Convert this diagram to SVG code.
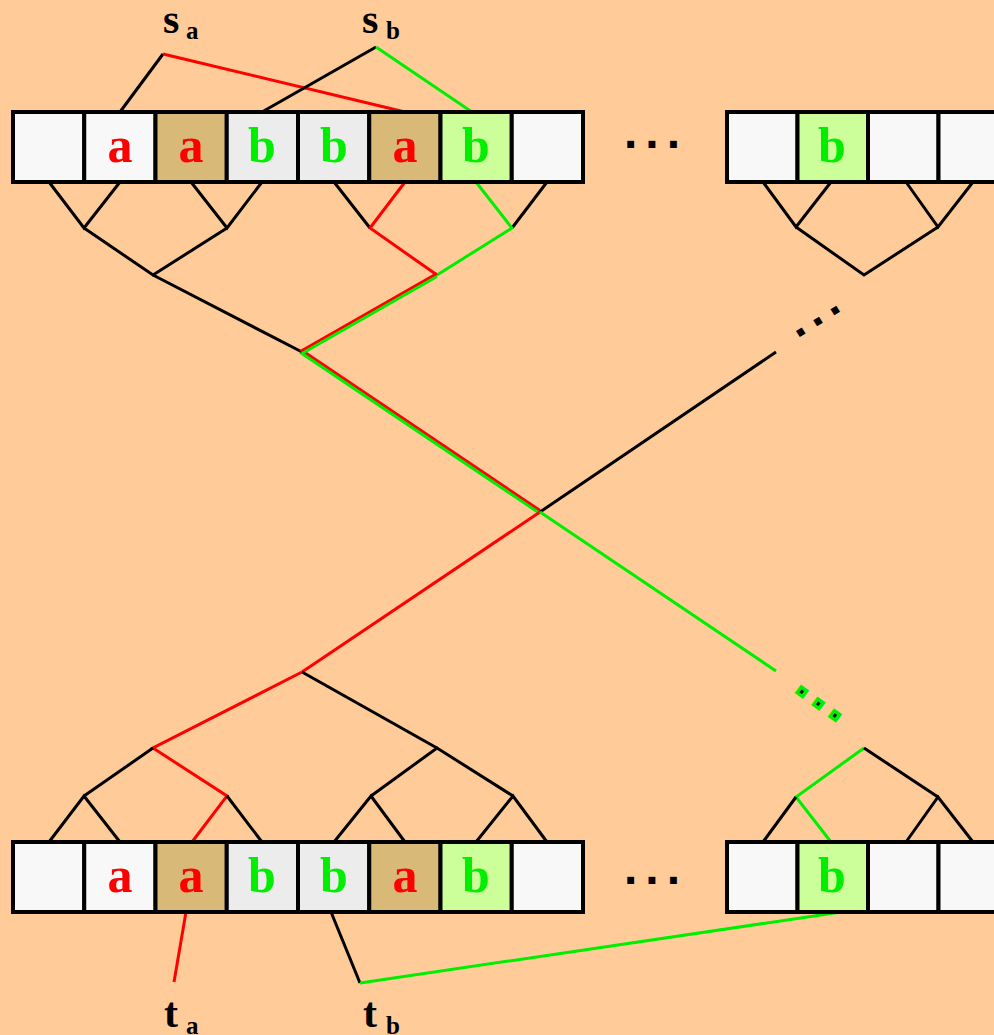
<svg xmlns="http://www.w3.org/2000/svg" width="994" height="1035" viewBox="0 0 994 1035">
  <style>
    .cell { stroke: #000; stroke-width: 4; }
    .w { fill: #f8f8f8; }
    .t { fill: #d9b978; }
    .g { fill: #ececec; }
    .lg { fill: #ccff99; }
    .ch { font-family: "Liberation Serif", serif; font-weight: bold; font-size: 50px; text-anchor: middle; }
    .ra { fill: #ff0000; }
    .gb { fill: #00ee00; }
    .lab { font-family: "Liberation Serif", serif; font-weight: bold; font-size: 42px; fill: #000; }
    .sub { font-family: "Liberation Serif", serif; font-weight: bold; font-size: 25px; fill: #000; }
    .dots { font-family: "Liberation Sans", sans-serif; font-weight: bold; font-size: 48px; letter-spacing: 8px; fill: #000; }
    .k { stroke: #000; stroke-width: 3; fill: none; stroke-linejoin: miter; }
    .r { stroke: #ff0000; stroke-width: 3; fill: none; }
    .e { stroke: #00ee00; stroke-width: 3; fill: none; }
  </style>
  <rect width="994" height="1035" fill="#ffcc99"/>

  <!-- connectors -->
  <g id="connectors">
    <!-- source pointers -->
    <polyline class="k" points="120,112 163,54"/>
    <polyline class="r" points="163,54 405,112"/>
    <polyline class="k" points="262,112 376,47"/>
    <polyline class="e" points="376,47 472,112"/>

    <!-- upper tree, left block -->
    <polyline class="k" points="49,182 84,228 120,182"/>
    <polyline class="k" points="191,182 227,228 262,182"/>
    <polyline class="k" points="334,182 370,228"/>
    <polyline class="r" points="405,182 370,228 437,275"/>
    <polyline class="k" points="547,182 512,228"/>
    <polyline class="e" points="476,182 512,228 437,275"/>
    <polyline class="k" points="84,228 153,275 227,228"/>
    <polyline class="k" points="153,275 302,352 540,512 776,352"/>
    <polyline class="r" points="437,273.5 302,350.5 540,510.5"/>
    <polyline class="e" points="437,276.5 302,353.5 540,513.5"/>

    <!-- upper tree, right block -->
    <polyline class="k" points="763,182 796,227 831,182"/>
    <polyline class="k" points="906,182 938,227 973,182"/>
    <polyline class="k" points="796,227 864,275 938,227"/>

    <!-- lower half of the crossing -->
    <polyline class="r" points="540,512 302,672"/>
    <polyline class="e" points="540,512 776,671"/>

    <!-- lower tree, left block -->
    <polyline class="k" points="302,672 437,748"/>
    <polyline class="r" points="302,672 153,748 227,796 192,842"/>
    <polyline class="k" points="153,748 84,796"/>
    <polyline class="k" points="49,842 84,796 120,842"/>
    <polyline class="k" points="227,796 262,842"/>
    <polyline class="k" points="371,796 437,748 513,796"/>
    <polyline class="k" points="334,842 371,796 405,842"/>
    <polyline class="k" points="476,842 513,796 547,842"/>

    <!-- lower tree, right block -->
    <polyline class="e" points="864,748 796,797 831,842"/>
    <polyline class="k" points="796,797 763,842"/>
    <polyline class="k" points="864,748 938,797"/>
    <polyline class="k" points="906,842 938,797 973,842"/>

    <!-- target pointers -->
    <polyline class="r" points="186,912 174,982"/>
    <polyline class="k" points="331,912 360,983"/>
    <polyline class="e" points="360,983 841,912"/>

    <!-- continuation marks on the diagonals -->
    <text class="dots" transform="translate(801,332) rotate(-32)" x="-7" y="3.5" style="letter-spacing:7px">...</text>
    <text class="dots" transform="translate(802,692) rotate(36)" x="-7" y="3.5" style="letter-spacing:7px;stroke:#00ee00;stroke-width:3.5px">...</text>
  </g>

  <!-- upper array -->
  <g id="top-array">
    <rect class="cell w" x="13" y="112" width="71.25" height="70"/>
    <rect class="cell w" x="84.25" y="112" width="71.25" height="70"/>
    <rect class="cell t" x="155.5" y="112" width="71.25" height="70"/>
    <rect class="cell g" x="226.75" y="112" width="71.25" height="70"/>
    <rect class="cell g" x="298" y="112" width="71.25" height="70"/>
    <rect class="cell t" x="369.25" y="112" width="71.25" height="70"/>
    <rect class="cell lg" x="440.5" y="112" width="71.25" height="70"/>
    <rect class="cell w" x="511.75" y="112" width="71.25" height="70"/>
    <text class="ch ra" x="120" y="162">a</text>
    <text class="ch ra" x="191" y="162">a</text>
    <text class="ch gb" x="262" y="162">b</text>
    <text class="ch gb" x="334" y="162">b</text>
    <text class="ch ra" x="405" y="162">a</text>
    <text class="ch gb" x="476" y="162">b</text>
  </g>
  <g id="top-gap">
    <text class="dots" x="624" y="148">...</text>
  </g>
  <g id="top-array-right">
    <rect class="cell w" x="727" y="112" width="70.5" height="70"/>
    <rect class="cell lg" x="797.5" y="112" width="70.5" height="70"/>
    <rect class="cell w" x="868" y="112" width="70.5" height="70"/>
    <rect class="cell w" x="938.5" y="112" width="70.5" height="70"/>
    <text class="ch gb" x="832" y="162">b</text>
  </g>

  <!-- lower array -->
  <g id="bottom-array">
    <rect class="cell w" x="13" y="842" width="71.25" height="70"/>
    <rect class="cell w" x="84.25" y="842" width="71.25" height="70"/>
    <rect class="cell t" x="155.5" y="842" width="71.25" height="70"/>
    <rect class="cell g" x="226.75" y="842" width="71.25" height="70"/>
    <rect class="cell g" x="298" y="842" width="71.25" height="70"/>
    <rect class="cell t" x="369.25" y="842" width="71.25" height="70"/>
    <rect class="cell lg" x="440.5" y="842" width="71.25" height="70"/>
    <rect class="cell w" x="511.75" y="842" width="71.25" height="70"/>
    <text class="ch ra" x="120" y="892">a</text>
    <text class="ch ra" x="191" y="892">a</text>
    <text class="ch gb" x="262" y="892">b</text>
    <text class="ch gb" x="334" y="892">b</text>
    <text class="ch ra" x="405" y="892">a</text>
    <text class="ch gb" x="476" y="892">b</text>
  </g>
  <g id="bottom-gap">
    <text class="dots" x="624" y="884">...</text>
  </g>
  <g id="bottom-array-right">
    <rect class="cell w" x="727" y="842" width="70.5" height="70"/>
    <rect class="cell lg" x="797.5" y="842" width="70.5" height="70"/>
    <rect class="cell w" x="868" y="842" width="70.5" height="70"/>
    <rect class="cell w" x="938.5" y="842" width="70.5" height="70"/>
    <text class="ch gb" x="832" y="892">b</text>
  </g>

  <!-- endpoint labels -->
  <g id="s-a"><text class="lab" x="163" y="33">s</text><text class="sub" x="186" y="39">a</text></g>
  <g id="s-b"><text class="lab" x="362" y="33">s</text><text class="sub" x="386" y="39">b</text></g>
  <g id="t-a"><text class="lab" x="164" y="1027">t</text><text class="sub" x="186" y="1034">a</text></g>
  <g id="t-b"><text class="lab" x="363" y="1027">t</text><text class="sub" x="386" y="1034">b</text></g>
</svg>
